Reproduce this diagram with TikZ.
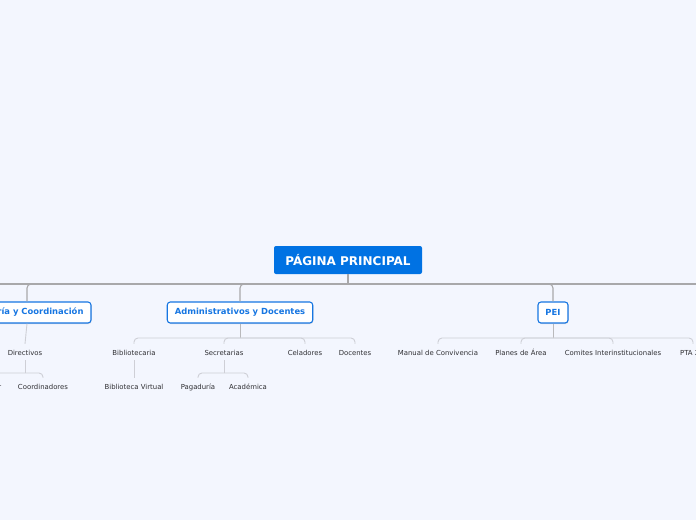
\documentclass[tikz,border=0pt]{standalone}
\usepackage{fontspec}
\setmainfont{DejaVu Sans}
\definecolor{pagebg}{RGB}{243,246,254}
\definecolor{rootblue}{RGB}{0,114,227}
\definecolor{topicblue}{RGB}{22,118,226}
\definecolor{trunkgray}{RGB}{168,168,170}
\definecolor{twiggray}{RGB}{206,207,214}
\definecolor{leaftext}{RGB}{48,48,52}
\usetikzlibrary{positioning, shadows}

\begin{document}
\begin{tikzpicture}[
  x=1pt, y=-1pt,
  rootbox/.style={rectangle, fill=rootblue, rounded corners=2pt, text=white,
                  font=\bfseries\fontsize{12}{14}\selectfont,
                  minimum width=148pt, minimum height=28pt, inner sep=0pt},
  topic/.style={rectangle, draw=topicblue, line width=1.1pt, fill=white,
                rounded corners=3pt, text=topicblue, inner xsep=7.5pt,
                minimum height=21pt, inner ysep=0pt,
                font=\bfseries\fontsize{8.4}{10}\selectfont,
                drop shadow={opacity=0.25, shadow xshift=0.6pt, shadow yshift=-1pt}},
  leaf/.style={inner sep=3pt, text=leaftext, text height=1.45ex, text depth=0.35ex,
               font=\fontsize{6.9}{8}\selectfont},
  trunk/.style={draw=trunkgray, line width=1.1pt},
  stem/.style={draw=trunkgray!80, line width=1pt},
  twig/.style={draw=twiggray, line width=0.9pt, rounded corners=4pt}
]
\fill[pagebg] (0,0) rectangle (696,520);
\useasboundingbox (0,0) rectangle (696,520);
\clip (0,0) rectangle (696,520);

\node[rootbox] (root) at (348,260) {PÁGINA PRINCIPAL};

\node[topic] (rect) at (27,312.5)  {Rectoría y Coordinación};
\node[topic] (adm)  at (240,312.5) {Administrativos y Docentes};
\node[topic] (pei)  at (553,312.5) {PEI};

\node[leaf] (dir)  at (25,352)  {Directivos};
\node[leaf] (rec)  at (-10,386) {Rector};
\node[leaf] (coo)  at (43,386)  {Coordinadores};

\node[leaf] (bib)  at (134,352) {Bibliotecaria};
\node[leaf] (sec)  at (224,352) {Secretarias};
\node[leaf] (cel)  at (305,352) {Celadores};
\node[leaf] (doc)  at (355,352) {Docentes};
\node[leaf] (bvi)  at (134,386) {Biblioteca Virtual};
\node[leaf] (pag)  at (198,386) {Pagaduría};
\node[leaf] (aca)  at (248,386) {Académica};

\node[leaf] (man)  at (438,352) {Manual de Convivencia};
\node[leaf] (pla)  at (521,352) {Planes de Área};
\node[leaf] (com)  at (613,352) {Comites Interinstitucionales};
\node[leaf] (pta)  at (693,352) {PTA 2.0};

% buses
\coordinate (rootbus) at (348,284);
\coordinate (busW) at (-20,284);
\coordinate (busE) at (716,284);
\coordinate (admbus) at (240,338);
\coordinate (peibus) at (553,338);
\coordinate (dirbus) at (25,373);
\coordinate (secbus) at (224,373);

\draw[trunk] (root) -- (rootbus);
\draw[trunk] (busW) -- (busE);
\foreach \t in {rect, adm, pei}
  \draw[trunk, rounded corners=4pt] (rootbus) -| (\t.north);

\draw[twig] (rect.south) -- (dir.north);
\draw[stem] (adm.south) -- (admbus);
\foreach \l in {bib, sec, cel, doc}
  \draw[twig] (admbus) -| (\l.north);
\draw[stem] (pei.south) -- (peibus);
\foreach \l in {man, pla, com, pta}
  \draw[twig] (peibus) -| (\l.north);

\draw[twig] (dir.south) -- (dirbus);
\foreach \l in {rec, coo}
  \draw[twig] (dirbus) -| (\l.north);
\draw[twig] (bib.south) -- (bvi.north);
\draw[twig] (sec.south) -- (secbus);
\foreach \l in {pag, aca}
  \draw[twig] (secbus) -| (\l.north);

\end{tikzpicture}
\end{document}
